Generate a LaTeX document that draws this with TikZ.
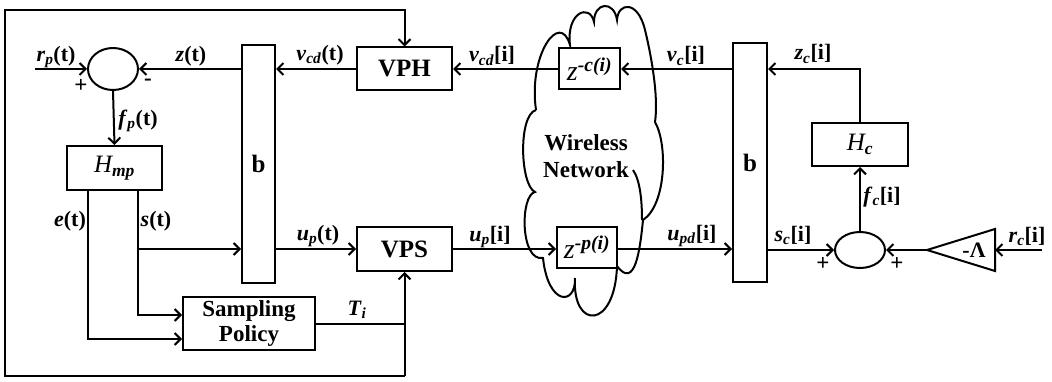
\documentclass[tikz,border=0pt]{standalone}
\usepackage{fontspec}
\setmainfont{Liberation Serif}
\usetikzlibrary{arrows.meta,shapes.geometric}
\begin{document}
\begin{tikzpicture}[x=1pt,y=-1pt, line width=2pt,
  blk/.style={draw, fill=white, inner sep=0pt, font=\fontsize{25}{28}\selectfont\bfseries},
  sumc/.style={draw, fill=white, ellipse, minimum width=50pt, minimum height=40pt, inner sep=0pt},
  lab/.style={font=\fontsize{22}{24}\selectfont\bfseries, inner sep=0pt},
  sgn/.style={font=\fontsize{23}{25}\selectfont\bfseries, inner sep=0pt},
  arr/.style={-{Straight Barb[length=6pt,width=12pt]}},
]
\useasboundingbox (0,0) rectangle (1052,382);
% cloud
\draw (536,110) .. controls (528,55) and (560,10) .. (570,45)
  .. controls (566,12) and (590,3) .. (594,22)
  .. controls (594,2) and (614,0) .. (617,20)
  .. controls (618,2) and (638,0) .. (645,30)
  .. controls (650,50) and (659,95) .. (655,122)
  .. controls (668,145) and (666,205) .. (643,220)
  .. controls (640,250) and (635,290) .. (617,266)
  .. controls (615,330) and (572,330) .. (575,278)
  .. controls (576,306) and (548,306) .. (543,258)
  .. controls (520,262) and (520,195) .. (535,192)
  .. controls (520,185) and (518,115) .. (536,110);
\draw (633,170) .. controls (640,180) and (642,200) .. (642,220);
\node[align=center, font=\fontsize{23}{27}\selectfont\bfseries] (wn) at (586,156) {Wireless\\Network};
% blocks
\node[sumc, minimum height=42pt] (sL) at (113,69) {};
\node[blk, minimum width=95pt, minimum height=44pt] (Hmp) at (114.5,168) {\mdseries\itshape H\textsubscript{\bfseries mp}};
\node[blk, minimum width=33pt, minimum height=238pt] (bL) at (258.5,164) {b};
\node[blk, minimum width=95pt, minimum height=43pt] (VPH) at (404.5,69) {VPH};
\node[blk, minimum width=95pt, minimum height=44pt] (VPS) at (404.5,249) {VPS};
\node[blk, minimum width=132pt, minimum height=53pt, align=center, font=\fontsize{23}{25}\selectfont\bfseries] (SP) at (249,323.5) {Sampling\\Policy};
\node[blk, minimum width=61pt, minimum height=41pt] (zc) at (589.5,69) {\fontsize{28}{30}\selectfont\mdseries\itshape z\textsuperscript{\bfseries\itshape -c(i)}};
\node[blk, minimum width=60pt, minimum height=40pt] (zp) at (587,247.5) {\fontsize{28}{30}\selectfont\mdseries\itshape z\textsuperscript{\bfseries\itshape -p(i)}};
\node[blk, minimum width=34pt, minimum height=239pt] (bR) at (750,162.5) {b};
\node[blk, minimum width=96pt, minimum height=43pt] (Hc) at (860,144.5) {\mdseries\itshape H\textsubscript{\bfseries c}};
\node[sumc, minimum height=36pt] (sR) at (860,250) {};
\draw (927,250) -- (995,229) -- (995,271) -- cycle;
\coordinate (tip) at (927,250);
\coordinate (tbase) at (995,250);
\node[font=\fontsize{22}{24}\selectfont\bfseries, inner sep=0pt] (gain) at (974,250) {-Λ};
% coordinates
\coordinate (rpin) at (35,69);
\coordinate (rcin) at (1042,250);
\coordinate (fr1) at (5,10);
\coordinate (fr2) at (5,376);
\coordinate (sbr) at (138,249);
% connectors
\draw[arr] (rpin) -- (sL.west);
\draw[arr] (bL.west |- sL) -- (sL.east);
\draw[arr] (VPH.west) -- (bL.east |- VPH);
\draw[arr] (sL.south) -- (Hmp.north);
\draw[arr] ([xshift=-26.5pt]Hmp.south) |- ([yshift=-15.5pt]SP.west);
\draw[arr] ([xshift=23.5pt]Hmp.south) |- ([yshift=8.5pt]SP.west);
\draw[arr] (sbr) -- (bL.west |- sbr);
\draw[arr] (bL.east |- VPS) -- (VPS.west);
\draw (SP.east) -- (SP.east -| VPS.south);
\draw[arr] (fr2 -| VPS.south) -- (fr2) -- (fr1) -- (fr1 -| VPH.north) -- (VPH.north);
\draw[arr] (fr2 -| VPS.south) -- (VPS.south);
\draw[arr] (VPS.east) -- (zp.west |- VPS.east);
\draw[arr] (zp.east |- VPS.east) -- (bR.west |- VPS.east);
\draw[arr] (bR.west |- zc) -- (zc.east);
\draw[arr] (zc.west) -- (VPH.east);
\draw[arr] (Hc.north) |- (bR.east |- zc);
\draw[arr] (sR.north) -- (Hc.south);
\draw[arr] (bR.east |- sR) -- (sR.west);
\draw[arr] (tip) -- (sR.east);
\draw[arr] (rcin) -- (tbase);
% labels
\node[lab] (lrp) at (56,57) {\textit{r}\textsubscript{\textit{p}}(t)};
\node[sgn] (p1) at (81,86) {+};
\node[sgn] (m1) at (148,82) {-};
\node[lab] (lz) at (191,56) {\textit{z}(t)};
\node[lab] (lvcdt) at (320,55) {\textit{v}\textsubscript{\textit{cd}}(t)};
\node[lab] (lfp) at (138,121) {\textit{f}\textsubscript{\textit{p}}(t)};
\node[lab] (le) at (70,221) {\textit{e}(t)};
\node[lab] (ls) at (156,221) {\textit{s}(t)};
\node[lab] (lupt) at (318,236) {\textit{u}\textsubscript{\textit{p}}(t)};
\node[lab] (lT) at (357,310) {\textit{T}\textsubscript{\textit{i}}};
\node[lab] (lvcdi) at (492,56) {\textit{v}\textsubscript{\textit{cd}}[i]};
\node[lab] (lvc) at (686,56) {\textit{v}\textsubscript{\textit{c}}[i]};
\node[lab] (lupi) at (490,237) {\textit{u}\textsubscript{\textit{p}}[i]};
\node[lab] (lupd) at (692,236) {\textit{u}\textsubscript{\textit{pd}}[i]};
\node[lab] (lzc) at (813,54) {\textit{z}\textsubscript{\textit{c}}[i]};
\node[lab] (lfc) at (882,197) {\textit{f}\textsubscript{\textit{c}}[i]};
\node[lab] (lsc) at (793,235) {\textit{s}\textsubscript{\textit{c}}[i]};
\node[sgn] (p2) at (823,264) {+};
\node[sgn] (p3) at (897,264) {+};
\node[lab] (lrc) at (1027,236) {\textit{r}\textsubscript{\textit{c}}[i]};
\end{tikzpicture}
\end{document}
